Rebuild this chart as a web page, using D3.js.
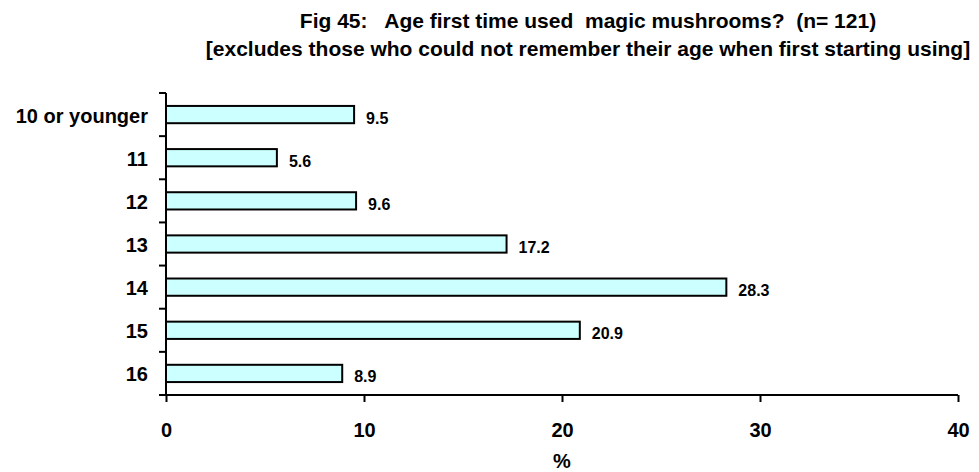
<!DOCTYPE html>
<html>
<head>
<meta charset="utf-8">
<script src="https://cdn.jsdelivr.net/npm/d3@7"></script>
<style>
  body { margin: 0; background: #fff; }
  text { font-family: "Liberation Sans", Arial, sans-serif; font-weight: bold; fill: #000; }
</style>
</head>
<body>
<div id="chart"></div>
<script>
var categories = ["10 or younger", "11", "12", "13", "14", "15", "16"];
var values = [9.5, 5.6, 9.6, 17.2, 28.3, 20.9, 8.9];
var xTicks = [0, 10, 20, 30, 40];
var titleLines = [
  "Fig 45:   Age first time used  magic mushrooms?  (n= 121)",
  "[excludes those who could not remember their age when first starting using]"
];

var width = 979, height = 472;
var margin = { top: 93, right: 21, bottom: 77, left: 166 };

var svg = d3.select("#chart").append("svg")
  .attr("width", width)
  .attr("height", height);

var x = d3.scaleLinear()
  .domain([0, 40])
  .range([margin.left, width - margin.right]);

var y = d3.scaleBand()
  .domain(categories)
  .range([margin.top, height - margin.bottom])
  .paddingInner(0.6)
  .paddingOuter(0.3);

// title
svg.selectAll(".title")
  .data(titleLines)
  .enter().append("text")
  .attr("class", "title")
  .attr("x", 588)
  .attr("y", function(d, i) { return 28 + i * 28; })
  .attr("text-anchor", "middle")
  .style("font-size", "21px")
  .style("white-space", "pre")
  .text(function(d) { return d; });

// bars
svg.selectAll(".bar")
  .data(values)
  .enter().append("rect")
  .attr("class", "bar")
  .attr("x", x(0))
  .attr("y", function(d, i) { return y(categories[i]); })
  .attr("width", function(d) { return x(d) - x(0); })
  .attr("height", y.bandwidth())
  .style("fill", "#ccffff")
  .style("stroke", "#000")
  .style("stroke-width", 2);

// value labels
svg.selectAll(".val")
  .data(values)
  .enter().append("text")
  .attr("class", "val")
  .attr("x", function(d) { return x(d) + 12; })
  .attr("y", function(d, i) { return y(categories[i]) + y.bandwidth() / 2 + 9; })
  .style("font-size", "16px")
  .text(function(d) { return d.toFixed(1); });

// y axis with ticks at band boundaries
var yTop = margin.top, yBot = height - margin.bottom;
svg.append("line")
  .attr("x1", x(0)).attr("x2", x(0))
  .attr("y1", yTop).attr("y2", yBot)
  .style("stroke", "#000").style("stroke-width", 2);

svg.selectAll(".ytick")
  .data(d3.range(categories.length + 1))
  .enter().append("line")
  .attr("x1", x(0) - 7).attr("x2", x(0))
  .attr("y1", function(i) { return yTop + (yBot - yTop) * i / categories.length; })
  .attr("y2", function(i) { return yTop + (yBot - yTop) * i / categories.length; })
  .style("stroke", "#000").style("stroke-width", 2);

svg.selectAll(".ylab")
  .data(categories)
  .enter().append("text")
  .attr("x", 148)
  .attr("y", function(d) { return y(d) + y.bandwidth() / 2 + 8; })
  .attr("text-anchor", "end")
  .style("font-size", "20px")
  .text(function(d) { return d; });

// x axis
var xAxis = d3.axisBottom(x)
  .tickValues(xTicks)
  .tickSize(7)
  .tickSizeOuter(0)
  .tickPadding(20);

var gx = svg.append("g")
  .attr("transform", "translate(0," + yBot + ")")
  .call(xAxis);
gx.select(".domain")
  .attr("d", "M" + (x(0) - 7) + ",0H" + x(40))
  .style("stroke-width", 2);
gx.selectAll(".tick line").style("stroke-width", 2);
gx.selectAll(".tick text")
  .attr("y", 42)
  .attr("dy", null)
  .style("font-size", "20px")
  .style("font-family", "Liberation Sans, Arial, sans-serif")
  .style("font-weight", "bold");

svg.append("text")
  .attr("x", (x(0) + x(40)) / 2)
  .attr("y", 468)
  .attr("text-anchor", "middle")
  .style("font-size", "20px")
  .text("%");
</script>
</body>
</html>
